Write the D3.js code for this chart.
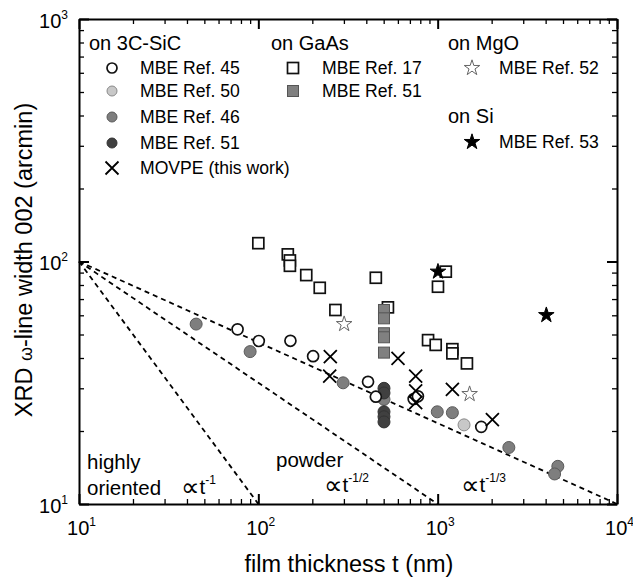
<!DOCTYPE html>
<html>
<head>
<meta charset="utf-8">
<script src="https://cdn.jsdelivr.net/npm/d3@7"></script>
<style>
  html, body { margin: 0; padding: 0; background: #fff; }
  svg { display: block; font-family: "Liberation Sans", Arial, sans-serif; }
</style>
</head>
<body>
<svg id="chart" width="633" height="583"></svg>
<script>
// ---- data: film thickness t (nm) and XRD omega line width (arcmin) ----
const ref45_t = [76.6, 100.6, 151, 202, 409, 452, 735, 776, 1750];
const ref45_w = [52.5, 47.0, 47.1, 40.7, 31.9, 27.7, 27.1, 27.8, 20.8];

const ref50_t = [1403];
const ref50_w = [21.2];

const ref46_t = [45, 90, 297, 502, 995, 1208, 2494, 4677, 4487];
const ref46_w = [55.2, 42.5, 31.6, 27.0, 24.0, 23.8, 17.1, 14.3, 13.3];

const ref51c_t = [502, 502, 502, 502, 502];
const ref51c_w = [30.0, 28.7, 24.0, 22.9, 21.8];

const movpe_t = [252, 250, 601, 754, 754, 754, 1208, 2019];
const movpe_w = [40.5, 33.7, 39.9, 33.7, 29.3, 26.2, 29.7, 22.3];

const ref17_t = [100, 146, 150, 150, 185, 220, 269, 452, 528, 1110, 1004, 884, 975, 1208, 1208, 1456];
const ref17_w = [119, 107, 101, 96, 87.9, 77.9, 63.1, 85.7, 64.7, 90.8, 78.7, 47.4, 45.3, 43.5, 41.8, 38.0];

const ref51s_t = [502, 502, 502, 502, 502];
const ref51s_w = [63.1, 58.3, 50.6, 48.7, 42.1];

const ref52_t = [301, 1507];
const ref52_w = [55.2, 28.4];

const ref53_t = [1004, 4036];
const ref53_w = [90.8, 60.1];

// scaling laws w ∝ t^-p, all anchored at t = 10 nm, w = 100 arcmin
const slopes = [1, 1 / 2, 1 / 3];

// ---- layout ----
const svg = d3.select("#chart");
const plotL = 79, plotR = 617, plotT = 19, plotB = 504;
const x = d3.scaleLog().domain([10, 10000]).range([plotL, plotR]);
const y = d3.scaleLog().domain([10, 1000]).range([plotB, plotT]);

const allTicks = (lo, hi) => {
  const out = [];
  for (let d = lo; d < hi; d *= 10) for (let k = 1; k < 10; k++) out.push(d * k);
  out.push(hi);
  return out;
};
const xAll = allTicks(10, 10000);
const yAll = allTicks(10, 1000);
const isMajor = v => Math.abs(Math.log10(v) - Math.round(Math.log10(v))) < 1e-9;

// ---- reference dashed lines ----
const line = d3.line().x(d => x(d[0])).y(d => y(d[1]));
slopes.forEach(p => {
  const tEnd = 10 * Math.pow(10, 1 / p);
  const pts = d3.range(0, 21).map(i => {
    const t = 10 * Math.pow(tEnd / 10, i / 20);
    return [t, 100 * Math.pow(t / 10, -p)];
  });
  svg.append("path").attr("d", line(pts))
    .attr("fill", "none").attr("stroke", "#000")
    .attr("stroke-width", 1.8).attr("stroke-dasharray", "5,4");
});

// ---- axes (ticks inward on all four sides) ----
function styleAxis(g, labels) {
  g.selectAll(".domain").attr("stroke", "#000").attr("stroke-width", 2);
  g.selectAll(".tick line").attr("stroke", "#000").attr("stroke-width", 1.3);
  g.selectAll(".tick").filter(d => !isMajor(d)).select("line")
    .each(function () {
      const l = d3.select(this);
      ["x2", "y2"].forEach(a => {
        const v = +l.attr(a);
        if (v) l.attr(a, v > 0 ? 5 : -5);
      });
    });
  g.selectAll(".tick").filter(d => isMajor(d)).select("line").attr("stroke-width", 2);
  if (!labels) g.selectAll(".tick text").remove();
}
function powLabel(sel) {
  sel.each(function (d) {
    const t = d3.select(this);
    if (!isMajor(d)) { t.remove(); return; }
    t.text(null).attr("fill", "#000").attr("font-size", 20);
    t.append("tspan").text("10");
    t.append("tspan").attr("font-size", 12).attr("dy", -9)
      .text(Math.round(Math.log10(d)));
  });
}

const gx = svg.append("g").attr("transform", `translate(0,${plotB})`)
  .call(d3.axisBottom(x).tickValues(xAll).tickSize(-10).tickSizeOuter(0));
styleAxis(gx, true);
gx.selectAll(".tick text").call(powLabel);
gx.selectAll(".tick text").attr("y", 31).attr("dy", 0).attr("dx", 2);

const gxt = svg.append("g").attr("transform", `translate(0,${plotT})`)
  .call(d3.axisTop(x).tickValues(xAll).tickSize(-10).tickSizeOuter(0));
styleAxis(gxt, false);

const gy = svg.append("g").attr("transform", `translate(${plotL},0)`)
  .call(d3.axisLeft(y).tickValues(yAll).tickSize(-10).tickSizeOuter(0));
styleAxis(gy, true);
gy.selectAll(".tick text").call(powLabel);
gy.selectAll(".tick text").attr("x", -11).attr("dy", 8);

const gyr = svg.append("g").attr("transform", `translate(${plotR},0)`)
  .call(d3.axisRight(y).tickValues(yAll).tickSize(-10).tickSizeOuter(0));
styleAxis(gyr, false);

// ---- axis titles ----
svg.append("text").attr("x", 349).attr("y", 572).attr("text-anchor", "middle")
  .attr("font-size", 23.5).attr("fill", "#000").text("film thickness t (nm)");

const yt = svg.append("text").attr("transform", "translate(32,260) rotate(-90)")
  .attr("text-anchor", "middle").attr("font-size", 23.5).attr("fill", "#000");
yt.append("tspan").text("XRD ");
yt.append("tspan").attr("font-size", 18).text("ω");
yt.append("tspan").text("-line width 002 (arcmin)");

// ---- marker drawing ----
const star = d3.symbol().type(d3.symbolStar).size(75)();
const markers = {
  openCircle: g => g.append("circle").attr("r", 5.5).attr("fill", "#fff").attr("stroke", "#111").attr("stroke-width", 1.7),
  lightCircle: g => g.append("circle").attr("r", 6).attr("fill", "#c8c8c8").attr("stroke", "#8a8a8a").attr("stroke-width", 1),
  midCircle: g => g.append("circle").attr("r", 6).attr("fill", "#7e7e7e").attr("stroke", "#5a5a5a").attr("stroke-width", 1),
  darkCircle: g => g.append("circle").attr("r", 6).attr("fill", "#404040").attr("stroke", "#333").attr("stroke-width", 1),
  cross: g => g.append("path").attr("d", "M-6.5,-6.5L6.5,6.5M-6.5,6.5L6.5,-6.5").attr("stroke", "#000").attr("stroke-width", 1.8).attr("fill", "none"),
  openSquare: g => g.append("rect").attr("x", -5.5).attr("y", -5.5).attr("width", 11).attr("height", 11).attr("fill", "#fff").attr("stroke", "#111").attr("stroke-width", 1.7),
  graySquare: g => g.append("rect").attr("x", -5.5).attr("y", -5.5).attr("width", 11).attr("height", 11).attr("fill", "#808080").attr("stroke", "#555").attr("stroke-width", 1),
  openStar: g => g.append("path").attr("d", star).attr("fill", "#fff").attr("stroke", "#666").attr("stroke-width", 1),
  filledStar: g => g.append("path").attr("d", star).attr("fill", "#000").attr("stroke", "#000").attr("stroke-width", 1)
};

function plotSeries(ts, ws, kind) {
  const g = svg.append("g");
  ts.forEach((t, i) => {
    const m = g.append("g").attr("transform", `translate(${x(t)},${y(ws[i])})`);
    markers[kind](m);
  });
}

plotSeries(ref17_t, ref17_w, "openSquare");
plotSeries(ref51s_t, ref51s_w, "graySquare");
plotSeries(ref46_t, ref46_w, "midCircle");
plotSeries(ref51c_t, ref51c_w, "darkCircle");
plotSeries(ref50_t, ref50_w, "lightCircle");
plotSeries(ref45_t, ref45_w, "openCircle");
plotSeries(ref52_t, ref52_w, "openStar");
plotSeries(ref53_t, ref53_w, "filledStar");
plotSeries(movpe_t, movpe_w, "cross");

// ---- legend ----
function header(txt, px, py) {
  svg.append("text").attr("x", px).attr("y", py).attr("font-size", 20).attr("fill", "#000").text(txt);
}
function entry(kind, mx, tx, cy, txt) {
  const m = svg.append("g").attr("transform", `translate(${mx},${cy})`);
  markers[kind](m);
  if (kind.endsWith("Circle")) m.select("circle").attr("r", 5);
  svg.append("text").attr("x", tx).attr("y", cy + 6).attr("font-size", 17.6).attr("fill", "#000").text(txt);
}
header("on 3C-SiC", 89, 50);
entry("openCircle", 112, 140, 68, "MBE Ref. 45");
entry("lightCircle", 112, 140, 91, "MBE Ref. 50");
entry("midCircle", 112, 140, 117, "MBE Ref. 46");
entry("darkCircle", 112, 140, 143, "MBE Ref. 51");
entry("cross", 112, 140, 168, "MOVPE (this work)");

header("on GaAs", 271, 50);
entry("openSquare", 293, 322, 68, "MBE Ref. 17");
entry("graySquare", 293, 322, 91, "MBE Ref. 51");

header("on MgO", 448, 50);
entry("openStar", 472, 499, 68, "MBE Ref. 52");
header("on Si", 448, 123);
entry("filledStar", 472, 499, 142, "MBE Ref. 53");

// ---- scaling-law annotations ----
function ann(txt, px, py) {
  svg.append("text").attr("x", px).attr("y", py).attr("font-size", 20.5).attr("fill", "#000").text(txt);
}
function prop(px, py, exp) {
  const t = svg.append("text").attr("x", px).attr("y", py).attr("font-size", 20.5).attr("fill", "#000");
  t.append("tspan").attr("font-family", "DejaVu Sans").attr("font-size", 26).attr("dy", 2).text("∝");
  t.append("tspan").attr("dy", -2).text("t");
  t.append("tspan").attr("font-size", 12).attr("dy", -10).text(exp);
}
ann("highly", 87, 469);
ann("oriented", 87, 495);
prop(181, 494, "-1");
ann("powder", 276, 467);
prop(324, 492, "-1/2");
prop(461, 492, "-1/3");
</script>
</body>
</html>
